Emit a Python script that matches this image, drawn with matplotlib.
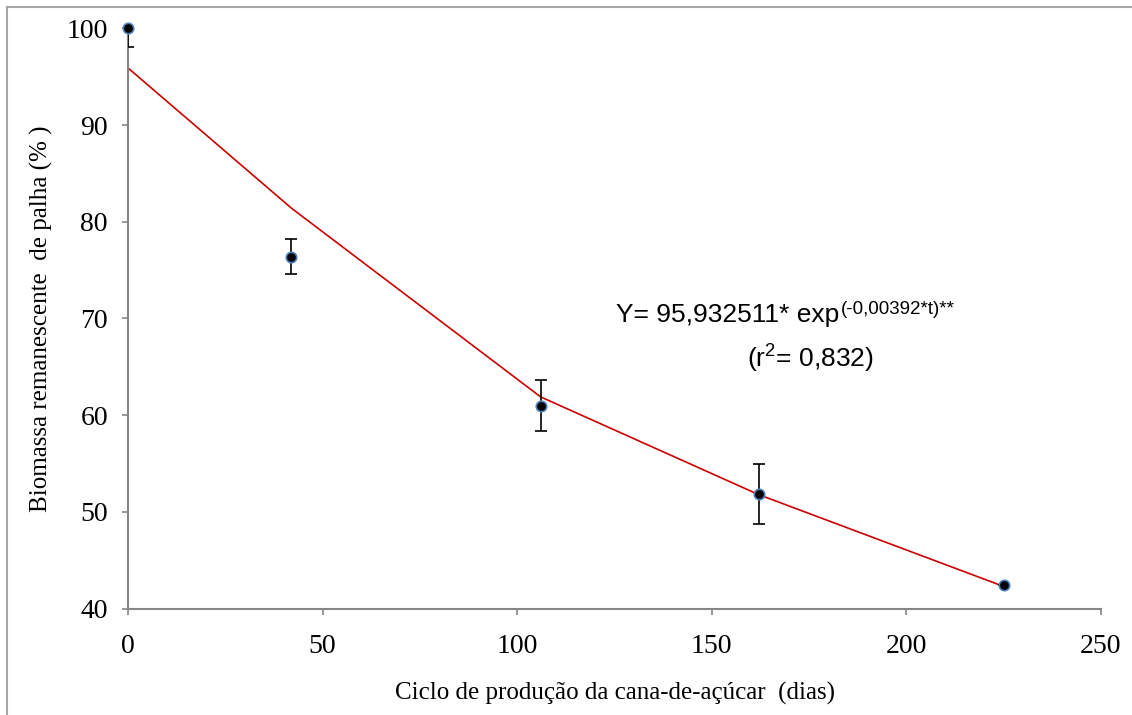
import numpy as np
import matplotlib
matplotlib.use("Agg")
import matplotlib.pyplot as plt
from matplotlib.lines import Line2D

# dias do ciclo
dias = [0, 42, 106, 162, 225]
# biomassa remanescente observada (%)
biomassa = [100.0, 76.4, 61.0, 51.9, 42.4]
erro = [1.9, 1.8, 2.65, 3.1, 0.0]
# curva ajustada
ajuste = [95.9, 81.4, 61.9, 51.8, 42.3]

x_ticks = [0, 50, 100, 150, 200, 250]
y_ticks = [40, 50, 60, 70, 80, 90, 100]

plt.rcParams['font.family'] = ['Liberation Serif']
plt.rcParams['mathtext.fontset'] = 'custom'
plt.rcParams['mathtext.rm'] = 'Liberation Sans'
plt.rcParams['mathtext.it'] = 'Liberation Sans'

fig = plt.figure(figsize=(11.32, 7.15), dpi=100)
ax = fig.add_axes([0.1131, 0.1487, 0.8595, 0.8117])

ax.plot(dias, ajuste, color='#cc0000', lw=1.2, zorder=2)
ax.errorbar(dias, biomassa, yerr=erro, fmt='none', ecolor='black',
            elinewidth=1.2, capsize=4, capthick=1.2, zorder=3)
ax.plot(dias, biomassa, 'o', ms=7.5, mfc='black', mec='#4f81bd', mew=1.2,
        zorder=4, clip_on=False)

ax.set_xlim(0, 250)
ax.set_ylim(40, 100)
ax.set_xticks(x_ticks)
ax.set_yticks(y_ticks)

for s in ['top', 'right']:
    ax.spines[s].set_visible(False)
for s in ['left', 'bottom']:
    ax.spines[s].set_color('#868686')
    ax.spines[s].set_linewidth(1.5)
ax.tick_params(axis='both', direction='out', length=4.5, width=1.2,
               color='#868686', labelsize=20)
ax.tick_params(axis='x', pad=14)
ax.tick_params(axis='y', pad=10)

ax.set_xlabel('Ciclo de produção da cana-de-açúcar  (dias)', fontsize=18, labelpad=16)
ax.set_ylabel('Biomassa remanescente  de palha (% )', fontsize=18, labelpad=9.5)

# equacao e r2
eq = ax.text(125.5, 69.6, 'Y= 95,932511* exp', fontsize=19,
             family='Liberation Sans', va='baseline', ha='left')
ax.annotate('(-0,00392*t)**', xy=(1, 0.55), xycoords=eq, xytext=(0.5, 0),
            textcoords='offset points', fontsize=13.5,
            family='Liberation Sans', va='baseline', ha='left')
ax.text(159, 64.9, '(r$^2$= 0,832)', fontsize=19, family='Liberation Sans',
        va='baseline', ha='left')

# moldura externa (apenas esquerda e topo visiveis)
fig.add_artist(Line2D([7/1132, 7/1132], [0, 1 - 7/715], transform=fig.transFigure,
                      color='#a6a6a6', lw=1.5))
fig.add_artist(Line2D([7/1132, 1], [1 - 7/715, 1 - 7/715], transform=fig.transFigure,
                      color='#a6a6a6', lw=1.5))

fig.savefig('out.png', dpi=100)
